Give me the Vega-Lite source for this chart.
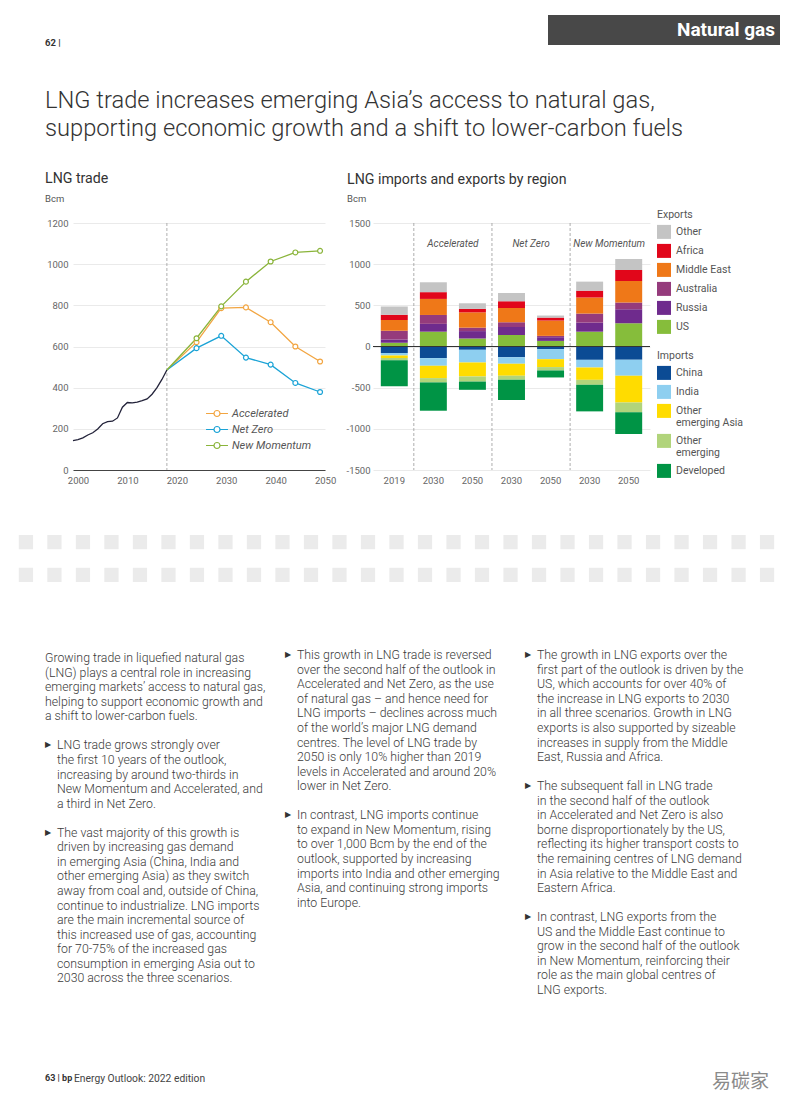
{
 "$schema": "https://vega.github.io/schema/vega-lite/v6.json",
 "padding": 0,
 "autosize": {"type": "pad"},
 "background": "white",
 "spacing": 0,
 "config": {
  "font": "Roboto",
  "view": {"stroke": null},
  "axis": {"labelFont": "Roboto", "labelFontSize": 9.5, "labelColor": "#666", "title": null, "ticks": false, "domain": false, "grid": false},
  "legend": {"labelFont": "Roboto", "titleFont": "Roboto", "labelFontSize": 10.5, "titleFontSize": 10.5, "titleFontWeight": "normal", "labelColor": "#555", "titleColor": "#555", "padding": 0},
  "title": {"font": "Roboto", "color": "#333", "fontWeight": "normal", "baseline": "top"}
 },
 "resolve": {"scale": {"color": "independent", "fill": "independent", "stroke": "independent"}, "legend": {"color": "independent", "fill": "independent", "stroke": "independent"}},
 "datasets": {
  "hist": [
   {"year": 2000, "value": 143}, {"year": 2001, "value": 148}, {"year": 2002, "value": 156}, {"year": 2003, "value": 170},
   {"year": 2004, "value": 181}, {"year": 2005, "value": 199}, {"year": 2006, "value": 225}, {"year": 2007, "value": 235},
   {"year": 2008, "value": 237}, {"year": 2009, "value": 253}, {"year": 2010, "value": 305}, {"year": 2011, "value": 328},
   {"year": 2012, "value": 326}, {"year": 2013, "value": 330}, {"year": 2014, "value": 337}, {"year": 2015, "value": 345},
   {"year": 2016, "value": 368}, {"year": 2017, "value": 400}, {"year": 2018, "value": 440}, {"year": 2019, "value": 486}
  ],
  "scen": [
   {"scenario": "Accelerated", "year": 2019, "value": 486}, {"scenario": "Accelerated", "year": 2025, "value": 621},
   {"scenario": "Accelerated", "year": 2030, "value": 786}, {"scenario": "Accelerated", "year": 2035, "value": 790},
   {"scenario": "Accelerated", "year": 2040, "value": 718}, {"scenario": "Accelerated", "year": 2045, "value": 600},
   {"scenario": "Accelerated", "year": 2050, "value": 527},
   {"scenario": "Net Zero", "year": 2019, "value": 486}, {"scenario": "Net Zero", "year": 2025, "value": 592},
   {"scenario": "Net Zero", "year": 2030, "value": 652}, {"scenario": "Net Zero", "year": 2035, "value": 546},
   {"scenario": "Net Zero", "year": 2040, "value": 512}, {"scenario": "Net Zero", "year": 2045, "value": 423},
   {"scenario": "Net Zero", "year": 2050, "value": 379},
   {"scenario": "New Momentum", "year": 2019, "value": 486}, {"scenario": "New Momentum", "year": 2025, "value": 640},
   {"scenario": "New Momentum", "year": 2030, "value": 795}, {"scenario": "New Momentum", "year": 2035, "value": 915},
   {"scenario": "New Momentum", "year": 2040, "value": 1013}, {"scenario": "New Momentum", "year": 2045, "value": 1057},
   {"scenario": "New Momentum", "year": 2050, "value": 1065}
  ],
  "exports": [
   {"key": "2019", "region": "US", "o": 1, "value": 47}, {"key": "2019", "region": "Russia", "o": 2, "value": 39},
   {"key": "2019", "region": "Australia", "o": 3, "value": 105}, {"key": "2019", "region": "Middle East", "o": 4, "value": 130},
   {"key": "2019", "region": "Africa", "o": 5, "value": 66}, {"key": "2019", "region": "Other", "o": 6, "value": 100},
   {"key": "Accelerated 2030", "region": "US", "o": 1, "value": 180}, {"key": "Accelerated 2030", "region": "Russia", "o": 2, "value": 95},
   {"key": "Accelerated 2030", "region": "Australia", "o": 3, "value": 108}, {"key": "Accelerated 2030", "region": "Middle East", "o": 4, "value": 195},
   {"key": "Accelerated 2030", "region": "Africa", "o": 5, "value": 82}, {"key": "Accelerated 2030", "region": "Other", "o": 6, "value": 120},
   {"key": "Accelerated 2050", "region": "US", "o": 1, "value": 97}, {"key": "Accelerated 2050", "region": "Russia", "o": 2, "value": 90},
   {"key": "Accelerated 2050", "region": "Australia", "o": 3, "value": 42}, {"key": "Accelerated 2050", "region": "Middle East", "o": 4, "value": 186},
   {"key": "Accelerated 2050", "region": "Africa", "o": 5, "value": 42}, {"key": "Accelerated 2050", "region": "Other", "o": 6, "value": 68},
   {"key": "Net Zero 2030", "region": "US", "o": 1, "value": 141}, {"key": "Net Zero 2030", "region": "Russia", "o": 2, "value": 96},
   {"key": "Net Zero 2030", "region": "Australia", "o": 3, "value": 57}, {"key": "Net Zero 2030", "region": "Middle East", "o": 4, "value": 175},
   {"key": "Net Zero 2030", "region": "Africa", "o": 5, "value": 80}, {"key": "Net Zero 2030", "region": "Other", "o": 6, "value": 101},
   {"key": "Net Zero 2050", "region": "US", "o": 1, "value": 68}, {"key": "Net Zero 2050", "region": "Russia", "o": 2, "value": 45},
   {"key": "Net Zero 2050", "region": "Australia", "o": 3, "value": 16}, {"key": "Net Zero 2050", "region": "Middle East", "o": 4, "value": 186},
   {"key": "Net Zero 2050", "region": "Africa", "o": 5, "value": 36}, {"key": "Net Zero 2050", "region": "Other", "o": 6, "value": 25},
   {"key": "New Momentum 2030", "region": "US", "o": 1, "value": 180}, {"key": "New Momentum 2030", "region": "Russia", "o": 2, "value": 110},
   {"key": "New Momentum 2030", "region": "Australia", "o": 3, "value": 110}, {"key": "New Momentum 2030", "region": "Middle East", "o": 4, "value": 195},
   {"key": "New Momentum 2030", "region": "Africa", "o": 5, "value": 83}, {"key": "New Momentum 2030", "region": "Other", "o": 6, "value": 110},
   {"key": "New Momentum 2050", "region": "US", "o": 1, "value": 283}, {"key": "New Momentum 2050", "region": "Russia", "o": 2, "value": 170},
   {"key": "New Momentum 2050", "region": "Australia", "o": 3, "value": 80}, {"key": "New Momentum 2050", "region": "Middle East", "o": 4, "value": 262},
   {"key": "New Momentum 2050", "region": "Africa", "o": 5, "value": 135}, {"key": "New Momentum 2050", "region": "Other", "o": 6, "value": 133}
  ],
  "imports": [
   {"key": "2019", "region": "China", "o": 1, "value": -80}, {"key": "2019", "region": "India", "o": 2, "value": -30},
   {"key": "2019", "region": "Other emerging Asia", "o": 3, "value": -30}, {"key": "2019", "region": "Other emerging", "o": 4, "value": -28},
   {"key": "2019", "region": "Developed", "o": 5, "value": -315},
   {"key": "Accelerated 2030", "region": "China", "o": 1, "value": -141}, {"key": "Accelerated 2030", "region": "India", "o": 2, "value": -93},
   {"key": "Accelerated 2030", "region": "Other emerging Asia", "o": 3, "value": -150}, {"key": "Accelerated 2030", "region": "Other emerging", "o": 4, "value": -52},
   {"key": "Accelerated 2030", "region": "Developed", "o": 5, "value": -344},
   {"key": "Accelerated 2050", "region": "China", "o": 1, "value": -40}, {"key": "Accelerated 2050", "region": "India", "o": 2, "value": -154},
   {"key": "Accelerated 2050", "region": "Other emerging Asia", "o": 3, "value": -170}, {"key": "Accelerated 2050", "region": "Other emerging", "o": 4, "value": -62},
   {"key": "Accelerated 2050", "region": "Developed", "o": 5, "value": -100},
   {"key": "Net Zero 2030", "region": "China", "o": 1, "value": -130}, {"key": "Net Zero 2030", "region": "India", "o": 2, "value": -80},
   {"key": "Net Zero 2030", "region": "Other emerging Asia", "o": 3, "value": -146}, {"key": "Net Zero 2030", "region": "Other emerging", "o": 4, "value": -48},
   {"key": "Net Zero 2030", "region": "Developed", "o": 5, "value": -246},
   {"key": "Net Zero 2050", "region": "China", "o": 1, "value": -32}, {"key": "Net Zero 2050", "region": "India", "o": 2, "value": -122},
   {"key": "Net Zero 2050", "region": "Other emerging Asia", "o": 3, "value": -96}, {"key": "Net Zero 2050", "region": "Other emerging", "o": 4, "value": -41},
   {"key": "Net Zero 2050", "region": "Developed", "o": 5, "value": -85},
   {"key": "New Momentum 2030", "region": "China", "o": 1, "value": -162}, {"key": "New Momentum 2030", "region": "India", "o": 2, "value": -93},
   {"key": "New Momentum 2030", "region": "Other emerging Asia", "o": 3, "value": -150}, {"key": "New Momentum 2030", "region": "Other emerging", "o": 4, "value": -60},
   {"key": "New Momentum 2030", "region": "Developed", "o": 5, "value": -323},
   {"key": "New Momentum 2050", "region": "China", "o": 1, "value": -162}, {"key": "New Momentum 2050", "region": "India", "o": 2, "value": -194},
   {"key": "New Momentum 2050", "region": "Other emerging Asia", "o": 3, "value": -323}, {"key": "New Momentum 2050", "region": "Other emerging", "o": 4, "value": -121},
   {"key": "New Momentum 2050", "region": "Developed", "o": 5, "value": -263}
  ],
  "seps": [{"key": "2019"}, {"key": "Accelerated 2050"}, {"key": "Net Zero 2050"}],
  "scenlabels": [
   {"key": "Accelerated 2030", "label": "Accelerated"},
   {"key": "Net Zero 2030", "label": "Net Zero"},
   {"key": "New Momentum 2030", "label": "New Momentum"}
  ],
  "squares": [
   {"r": 0, "c": 0}, {"r": 0, "c": 1}, {"r": 0, "c": 2}, {"r": 0, "c": 3}, {"r": 0, "c": 4}, {"r": 0, "c": 5}, {"r": 0, "c": 6},
   {"r": 0, "c": 7}, {"r": 0, "c": 8}, {"r": 0, "c": 9}, {"r": 0, "c": 10}, {"r": 0, "c": 11}, {"r": 0, "c": 12}, {"r": 0, "c": 13},
   {"r": 0, "c": 14}, {"r": 0, "c": 15}, {"r": 0, "c": 16}, {"r": 0, "c": 17}, {"r": 0, "c": 18}, {"r": 0, "c": 19}, {"r": 0, "c": 20},
   {"r": 0, "c": 21}, {"r": 0, "c": 22}, {"r": 0, "c": 23}, {"r": 0, "c": 24}, {"r": 0, "c": 25}, {"r": 0, "c": 26},
   {"r": 1, "c": 0}, {"r": 1, "c": 1}, {"r": 1, "c": 2}, {"r": 1, "c": 3}, {"r": 1, "c": 4}, {"r": 1, "c": 5}, {"r": 1, "c": 6},
   {"r": 1, "c": 7}, {"r": 1, "c": 8}, {"r": 1, "c": 9}, {"r": 1, "c": 10}, {"r": 1, "c": 11}, {"r": 1, "c": 12}, {"r": 1, "c": 13},
   {"r": 1, "c": 14}, {"r": 1, "c": 15}, {"r": 1, "c": 16}, {"r": 1, "c": 17}, {"r": 1, "c": 18}, {"r": 1, "c": 19}, {"r": 1, "c": 20},
   {"r": 1, "c": 21}, {"r": 1, "c": 22}, {"r": 1, "c": 23}, {"r": 1, "c": 24}, {"r": 1, "c": 25}, {"r": 1, "c": 26}
  ],
  "text": [
   {"col": 1, "line": 0, "kind": "intro", "text": "Growing trade in liquefied natural gas"},
   {"col": 1, "line": 1, "kind": "intro", "text": "(LNG) plays a central role in increasing"},
   {"col": 1, "line": 2, "kind": "intro", "text": "emerging markets’ access to natural gas,"},
   {"col": 1, "line": 3, "kind": "intro", "text": "helping to support economic growth and"},
   {"col": 1, "line": 4, "kind": "intro", "text": "a shift to lower-carbon fuels."},
   {"col": 1, "line": 6, "kind": "body", "first": true, "text": "LNG trade grows strongly over"},
   {"col": 1, "line": 7, "kind": "body", "text": "the first 10 years of the outlook,"},
   {"col": 1, "line": 8, "kind": "body", "text": "increasing by around two-thirds in"},
   {"col": 1, "line": 9, "kind": "body", "text": "New Momentum and Accelerated, and"},
   {"col": 1, "line": 10, "kind": "body", "text": "a third in Net Zero."},
   {"col": 1, "line": 12, "kind": "body", "first": true, "text": "The vast majority of this growth is"},
   {"col": 1, "line": 13, "kind": "body", "text": "driven by increasing gas demand"},
   {"col": 1, "line": 14, "kind": "body", "text": "in emerging Asia (China, India and"},
   {"col": 1, "line": 15, "kind": "body", "text": "other emerging Asia) as they switch"},
   {"col": 1, "line": 16, "kind": "body", "text": "away from coal and, outside of China,"},
   {"col": 1, "line": 17, "kind": "body", "text": "continue to industrialize. LNG imports"},
   {"col": 1, "line": 18, "kind": "body", "text": "are the main incremental source of"},
   {"col": 1, "line": 19, "kind": "body", "text": "this increased use of gas, accounting"},
   {"col": 1, "line": 20, "kind": "body", "text": "for 70-75% of the increased gas"},
   {"col": 1, "line": 21, "kind": "body", "text": "consumption in emerging Asia out to"},
   {"col": 1, "line": 22, "kind": "body", "text": "2030 across the three scenarios."},
   {"col": 2, "line": 0, "kind": "body", "first": true, "text": "This growth in LNG trade is reversed"},
   {"col": 2, "line": 1, "kind": "body", "text": "over the second half of the outlook in"},
   {"col": 2, "line": 2, "kind": "body", "text": "Accelerated and Net Zero, as the use"},
   {"col": 2, "line": 3, "kind": "body", "text": "of natural gas – and hence need for"},
   {"col": 2, "line": 4, "kind": "body", "text": "LNG imports – declines across much"},
   {"col": 2, "line": 5, "kind": "body", "text": "of the world’s major LNG demand"},
   {"col": 2, "line": 6, "kind": "body", "text": "centres. The level of LNG trade by"},
   {"col": 2, "line": 7, "kind": "body", "text": "2050 is only 10% higher than 2019"},
   {"col": 2, "line": 8, "kind": "body", "text": "levels in Accelerated and around 20%"},
   {"col": 2, "line": 9, "kind": "body", "text": "lower in Net Zero."},
   {"col": 2, "line": 11, "kind": "body", "first": true, "text": "In contrast, LNG imports continue"},
   {"col": 2, "line": 12, "kind": "body", "text": "to expand in New Momentum, rising"},
   {"col": 2, "line": 13, "kind": "body", "text": "to over 1,000 Bcm by the end of the"},
   {"col": 2, "line": 14, "kind": "body", "text": "outlook, supported by increasing"},
   {"col": 2, "line": 15, "kind": "body", "text": "imports into India and other emerging"},
   {"col": 2, "line": 16, "kind": "body", "text": "Asia, and continuing strong imports"},
   {"col": 2, "line": 17, "kind": "body", "text": "into Europe."},
   {"col": 3, "line": 0, "kind": "body", "first": true, "text": "The growth in LNG exports over the"},
   {"col": 3, "line": 1, "kind": "body", "text": "first part of the outlook is driven by the"},
   {"col": 3, "line": 2, "kind": "body", "text": "US, which accounts for over 40% of"},
   {"col": 3, "line": 3, "kind": "body", "text": "the increase in LNG exports to 2030"},
   {"col": 3, "line": 4, "kind": "body", "text": "in all three scenarios. Growth in LNG"},
   {"col": 3, "line": 5, "kind": "body", "text": "exports is also supported by sizeable"},
   {"col": 3, "line": 6, "kind": "body", "text": "increases in supply from the Middle"},
   {"col": 3, "line": 7, "kind": "body", "text": "East, Russia and Africa."},
   {"col": 3, "line": 9, "kind": "body", "first": true, "text": "The subsequent fall in LNG trade"},
   {"col": 3, "line": 10, "kind": "body", "text": "in the second half of the outlook"},
   {"col": 3, "line": 11, "kind": "body", "text": "in Accelerated and Net Zero is also"},
   {"col": 3, "line": 12, "kind": "body", "text": "borne disproportionately by the US,"},
   {"col": 3, "line": 13, "kind": "body", "text": "reflecting its higher transport costs to"},
   {"col": 3, "line": 14, "kind": "body", "text": "the remaining centres of LNG demand"},
   {"col": 3, "line": 15, "kind": "body", "text": "in Asia relative to the Middle East and"},
   {"col": 3, "line": 16, "kind": "body", "text": "Eastern Africa."},
   {"col": 3, "line": 18, "kind": "body", "first": true, "text": "In contrast, LNG exports from the"},
   {"col": 3, "line": 19, "kind": "body", "text": "US and the Middle East continue to"},
   {"col": 3, "line": 20, "kind": "body", "text": "grow in the second half of the outlook"},
   {"col": 3, "line": 21, "kind": "body", "text": "in New Momentum, reinforcing their"},
   {"col": 3, "line": 22, "kind": "body", "text": "role as the main global centres of"},
   {"col": 3, "line": 23, "kind": "body", "text": "LNG exports."}
  ]
 },
 "vconcat": [
  {"width": 793, "height": 15, "data": {"values": []}, "mark": "point"},
  {
   "hconcat": [
    {"width": 548, "height": 30, "data": {"values": []}, "mark": "point",
     "title": {"text": "62 |", "orient": "bottom", "anchor": "start", "frame": "group", "dx": 45, "offset": -7, "fontSize": 9.5, "fontWeight": "bold", "color": "#333"}},
    {"width": 232, "height": 30, "data": {"values": []}, "mark": "point", "view": {"fill": "#484848", "stroke": null},
     "title": {"text": "Natural gas", "orient": "bottom", "anchor": "end", "frame": "group", "dx": -5, "offset": -24, "fontSize": 19, "fontWeight": "bold", "color": "white"}},
    {"width": 13, "height": 30, "data": {"values": []}, "mark": "point"}
   ],
   "spacing": 0, "bounds": "flush"
  },
  {"width": 793, "height": 124, "data": {"values": []}, "mark": "point",
   "title": {"text": ["LNG trade increases emerging Asia’s access to natural gas,", "supporting economic growth and a shift to lower-carbon fuels"], "orient": "bottom", "anchor": "start", "frame": "group", "dx": 45, "offset": -83.2, "fontSize": 23.7, "font": "Roboto", "fontWeight": 300, "lineHeight": 28.5, "color": "#333"}},
  {
   "hconcat": [
    {"width": 73, "height": 312, "data": {"values": []}, "mark": "point"},
    {
     "width": 252, "height": 247,
     "title": {"text": "LNG trade", "subtitle": "Bcm", "anchor": "start", "frame": "group", "dx": -28, "offset": 15, "fontSize": 14.2, "subtitleFontSize": 9.5, "subtitleColor": "#555", "subtitlePadding": 7, "subtitleFont": "Roboto"},
     "layer": [
      {"data": {"values": [{"year": 2019}]}, "mark": {"type": "rule", "color": "#999", "strokeDash": [3, 2], "strokeWidth": 0.8},
       "encoding": {"x": {"field": "year", "type": "quantitative", "scale": {"domain": [2000, 2051], "nice": false, "zero": false},
         "axis": {"values": [2000, 2010, 2020, 2030, 2040, 2050], "format": "d", "domain": true, "domainColor": "#444", "domainWidth": 1, "labelPadding": 5, "labelFlush": false, "labelOffset": 5}}}},
      {"data": {"name": "hist"}, "mark": {"type": "line", "color": "#23233a", "strokeWidth": 1.3},
       "encoding": {"x": {"field": "year", "type": "quantitative"},
        "y": {"field": "value", "type": "quantitative", "scale": {"domain": [0, 1200], "nice": false},
         "axis": {"values": [0, 200, 400, 600, 800, 1000, 1200], "labelExpr": "'' + datum.value", "grid": true, "gridColor": "#e5e5e5", "gridWidth": 0.8, "labelPadding": 5}}}},
      {"data": {"name": "scen"}, "mark": {"type": "line", "strokeWidth": 1.3},
       "encoding": {"x": {"field": "year", "type": "quantitative"}, "y": {"field": "value", "type": "quantitative"},
        "stroke": {"field": "scenario", "type": "nominal", "scale": {"domain": ["Accelerated", "Net Zero", "New Momentum"], "range": ["#f2a541", "#1ba3d6", "#8ab43a"]},
         "legend": {"title": null, "orient": "none", "legendX": 137, "legendY": 183.5, "symbolType": "M-1.83,0L-0.5,0M0.5,0L1.83,0M-0.5,0A0.5,0.5,0,1,0,0.5,0A0.5,0.5,0,1,0,-0.5,0Z", "symbolSize": 144, "symbolStrokeWidth": 1.2, "symbolFillColor": "white", "labelFontStyle": "italic", "labelFontSize": 11, "rowPadding": 3, "labelOffset": 8}}}},
      {"data": {"name": "scen"}, "transform": [{"filter": "datum.year > 2019"}],
       "mark": {"type": "point", "filled": false, "fill": "white", "size": 24, "strokeWidth": 1.2, "opacity": 1},
       "encoding": {"x": {"field": "year", "type": "quantitative"}, "y": {"field": "value", "type": "quantitative"},
        "stroke": {"field": "scenario", "type": "nominal"}}}
     ]
    },
    {"width": 48, "height": 10, "data": {"values": []}, "mark": "point"},
    {
     "width": 277, "height": 247,
     "title": {"text": "LNG imports and exports by region", "subtitle": "Bcm", "anchor": "start", "frame": "group", "dx": -26, "offset": 7, "fontSize": 14.2, "subtitleFontSize": 9.5, "subtitleColor": "#555", "subtitlePadding": 7, "subtitleFont": "Roboto"},
     "layer": [
      {"data": {"name": "exports"}, "mark": {"type": "bar"},
       "encoding": {
        "x": {"field": "key", "type": "nominal", "sort": null,
         "scale": {"domain": ["2019", "Accelerated 2030", "Accelerated 2050", "Net Zero 2030", "Net Zero 2050", "New Momentum 2030", "New Momentum 2050"], "paddingInner": 0.31, "paddingOuter": 0.2},
         "axis": {"labelExpr": "substring(datum.label, length(datum.label) - 4)", "labelAngle": 0, "labelPadding": 5}},
        "y": {"field": "value", "type": "quantitative", "stack": "zero", "scale": {"domain": [-1500, 1500], "nice": false},
         "axis": {"values": [-1500, -1000, -500, 0, 500, 1000, 1500], "labelExpr": "'' + datum.value", "grid": true, "gridColor": "#e5e5e5", "gridWidth": 0.8, "labelPadding": 3}},
        "color": {"field": "region", "type": "nominal",
         "scale": {"domain": ["Other", "Africa", "Middle East", "Australia", "Russia", "US"], "range": ["#c4c4c4", "#e1061a", "#ef7818", "#953b7c", "#6f2b8d", "#86bd3b"]},
         "legend": {"title": "Exports", "orient": "none", "legendX": 284, "legendY": -12.6, "symbolType": "square", "symbolSize": 196, "symbolStrokeWidth": 0, "symbolOpacity": 1, "rowPadding": 5, "titlePadding": 4, "labelOffset": 5}},
        "order": {"field": "o", "type": "quantitative", "sort": "ascending"}
       }},
      {"data": {"name": "imports"}, "mark": {"type": "bar"},
       "encoding": {
        "x": {"field": "key", "type": "nominal", "sort": null},
        "y": {"field": "value", "type": "quantitative", "stack": "zero"},
        "fill": {"field": "region", "type": "nominal",
         "scale": {"domain": ["China", "India", "Other emerging Asia", "Other emerging", "Developed"], "range": ["#0b4b94", "#8ecff0", "#ffdc00", "#b1d47b", "#009445"]},
         "legend": {"title": "Imports", "orient": "none", "legendX": 284, "legendY": 128.4, "symbolType": "square", "symbolSize": 196, "symbolStrokeWidth": 0, "symbolOpacity": 1, "rowPadding": 5, "titlePadding": 4, "labelOffset": 5,
          "labelExpr": "datum.label == 'Other emerging Asia' ? ['Other', 'emerging Asia'] : datum.label == 'Other emerging' ? ['Other', 'emerging'] : datum.label"}},
        "order": {"field": "o", "type": "quantitative", "sort": "ascending"}
       }},
      {"data": {"values": [{"v": 0}]}, "mark": {"type": "rule", "color": "#333", "strokeWidth": 1},
       "encoding": {"y": {"field": "v", "type": "quantitative"}}},
      {"data": {"name": "seps"}, "mark": {"type": "rule", "color": "#999", "strokeDash": [3, 2], "strokeWidth": 0.8},
       "encoding": {"x": {"field": "key", "type": "nominal", "bandPosition": 1.2246}}},
      {"data": {"name": "scenlabels"}, "mark": {"type": "text", "fontStyle": "italic", "fontSize": 10, "color": "#555", "baseline": "middle", "align": "center"},
       "encoding": {"x": {"field": "key", "type": "nominal", "bandPosition": 1.2246}, "y": {"datum": 1250}, "text": {"field": "label"}}}
     ]
    }
   ],
   "spacing": 0, "bounds": "flush",
   "resolve": {"scale": {"color": "independent", "fill": "independent", "stroke": "independent"}, "legend": {"color": "independent", "fill": "independent", "stroke": "independent"}}
  },
  {"width": 793, "height": 47, "data": {"name": "squares"}, "mark": {"type": "rect", "color": "#ebebeb"},
   "encoding": {
    "x": {"field": "c", "type": "ordinal", "scale": {"paddingInner": 0.5, "paddingOuter": 0.66}, "axis": null},
    "y": {"field": "r", "type": "ordinal", "scale": {"paddingInner": 0.567, "paddingOuter": 0}, "axis": null}
   }},
  {"width": 793, "height": 65.7, "data": {"values": []}, "mark": "point"},
  {
   "hconcat": [
    {"width": 45, "height": 349.2, "data": {"values": []}, "mark": "point"},
    {"width": 228, "height": 349.2, "data": {"name": "text"}, "transform": [{"filter": "datum.col == 1"}],
     "layer": [
      {"mark": {"type": "text", "align": "left", "baseline": "middle", "fontSize": 12.3, "font": "Roboto", "fontWeight": 300, "color": "#3a3a3a"},
       "encoding": {"x": {"field": "kind", "type": "nominal", "scale": {"type": "point", "domain": ["intro", "body"], "range": [0, 12], "padding": 0}, "axis": null},
        "y": {"field": "line", "type": "quantitative", "scale": {"domain": [-0.7, 23.3], "reverse": true, "nice": false, "zero": false}, "axis": null},
        "text": {"field": "text"}}},
      {"transform": [{"filter": "datum.first"}], "mark": {"type": "text", "align": "left", "baseline": "middle", "fontSize": 8, "font": "DejaVu Sans", "color": "#333"},
       "encoding": {"x": {"datum": "intro", "type": "nominal"}, "y": {"field": "line", "type": "quantitative"}, "text": {"value": "▶"}}}
     ]},
    {"width": 12, "height": 349.2, "data": {"values": []}, "mark": "point"},
    {"width": 228, "height": 349.2, "data": {"name": "text"}, "transform": [{"filter": "datum.col == 2"}],
     "layer": [
      {"mark": {"type": "text", "align": "left", "baseline": "middle", "fontSize": 12.3, "font": "Roboto", "fontWeight": 300, "color": "#3a3a3a"},
       "encoding": {"x": {"field": "kind", "type": "nominal", "scale": {"type": "point", "domain": ["intro", "body"], "range": [0, 12], "padding": 0}, "axis": null},
        "y": {"field": "line", "type": "quantitative", "scale": {"domain": [-0.5, 23.5], "reverse": true, "nice": false, "zero": false}, "axis": null},
        "text": {"field": "text"}}},
      {"transform": [{"filter": "datum.first"}], "mark": {"type": "text", "align": "left", "baseline": "middle", "fontSize": 8, "font": "DejaVu Sans", "color": "#333"},
       "encoding": {"x": {"datum": "intro", "type": "nominal"}, "y": {"field": "line", "type": "quantitative"}, "text": {"value": "▶"}}}
     ]},
    {"width": 12, "height": 349.2, "data": {"values": []}, "mark": "point"},
    {"width": 228, "height": 349.2, "data": {"name": "text"}, "transform": [{"filter": "datum.col == 3"}],
     "layer": [
      {"mark": {"type": "text", "align": "left", "baseline": "middle", "fontSize": 12.3, "font": "Roboto", "fontWeight": 300, "color": "#3a3a3a"},
       "encoding": {"x": {"field": "kind", "type": "nominal", "scale": {"type": "point", "domain": ["intro", "body"], "range": [0, 12], "padding": 0}, "axis": null},
        "y": {"field": "line", "type": "quantitative", "scale": {"domain": [-0.5, 23.5], "reverse": true, "nice": false, "zero": false}, "axis": null},
        "text": {"field": "text"}}},
      {"transform": [{"filter": "datum.first"}], "mark": {"type": "text", "align": "left", "baseline": "middle", "fontSize": 8, "font": "DejaVu Sans", "color": "#333"},
       "encoding": {"x": {"datum": "intro", "type": "nominal"}, "y": {"field": "line", "type": "quantitative"}, "text": {"value": "▶"}}}
     ]}
   ],
   "spacing": 0, "bounds": "flush"
  },
  {"width": 793, "height": 70.1, "data": {"values": []}, "mark": "point"},
  {
   "hconcat": [
    {"width": 74, "height": 50, "data": {"values": []}, "mark": "point",
     "title": {"text": "63 | bp", "orient": "bottom", "anchor": "start", "frame": "group", "dx": 45, "offset": -45.2, "fontSize": 9, "fontWeight": "bold", "color": "#333"}},
    {"width": 638, "height": 50, "data": {"values": []}, "mark": "point",
     "title": {"text": "Energy Outlook: 2022 edition", "orient": "bottom", "anchor": "start", "frame": "group", "dx": 0, "offset": -45.4, "fontSize": 10.3, "color": "#444"}},
    {"width": 81, "height": 50, "data": {"values": []}, "mark": "point",
     "title": {"text": "易碳家", "orient": "bottom", "anchor": "start", "frame": "group", "dx": 0, "offset": -46, "fontSize": 19, "font": "Noto Sans CJK SC", "color": "#8a8a8a"}}
   ],
   "spacing": 0, "bounds": "flush"
  }
 ]
}
